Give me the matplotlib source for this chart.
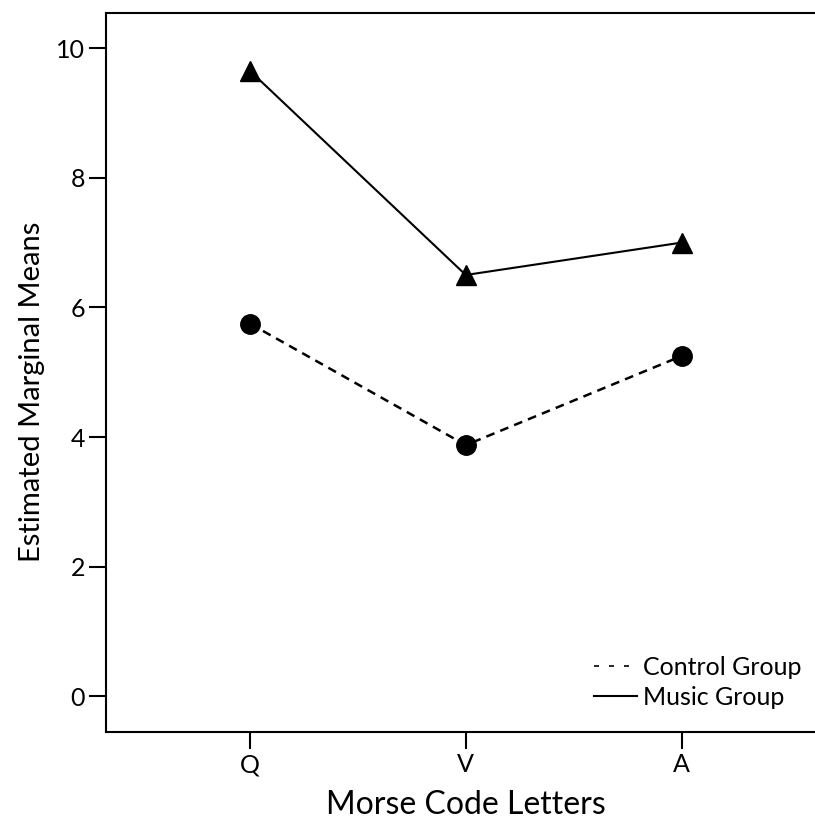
import matplotlib.pyplot as plt

# data
letters = ["Q", "V", "A"]
control_means = [5.75, 3.875, 5.25]
music_means = [9.65, 6.5, 7.0]

plt.rcParams['font.family'] = ['Lato', 'DejaVu Sans']

fig = plt.figure(figsize=(8.15, 8.21), dpi=100)
fig.patch.set_facecolor('white')
# right edge sits past the figure border, as in the reference
ax = fig.add_axes([0.130, 0.108, 0.883, 0.876])

x = list(range(len(letters)))
ax.plot(x, control_means, color='black', linestyle=(0, (3.5, 2.5)), linewidth=1.8,
        marker='o', markersize=14, label="Control Group")
ax.plot(x, music_means, color='black', linestyle='-', linewidth=1.5,
        marker='^', markersize=14, label="Music Group")

ax.set_xlim(-0.667, 2.667)
ax.set_ylim(-0.556, 10.54)
ax.set_xticks(x)
ax.set_xticklabels(letters)
ax.set_yticks([0, 2, 4, 6, 8, 10])

for s in ax.spines.values():
    s.set_linewidth(1.5)
ax.tick_params(axis='both', direction='out', length=12, width=1.5,
               labelsize=18, pad=3)

ax.set_xlabel("Morse Code Letters", fontsize=23, labelpad=10)
ax.set_ylabel("Estimated Marginal Means", fontsize=21)
ax.yaxis.set_label_coords(-0.084, 0.473)

leg = ax.legend(handles=[
    plt.Line2D([], [], color='black', linestyle=(0, (3, 6)), linewidth=1.2),
    plt.Line2D([], [], color='black', linestyle='-', linewidth=1.5)],
    labels=["Control Group", "Music Group"],
    loc='lower right', bbox_to_anchor=(0.996, 0.124),
    bbox_transform=fig.transFigure, frameon=False, fontsize=18,
    handlelength=1.7, handletextpad=0.25, labelspacing=0.3,
    borderaxespad=0)

fig.savefig("out.png", dpi=100)
